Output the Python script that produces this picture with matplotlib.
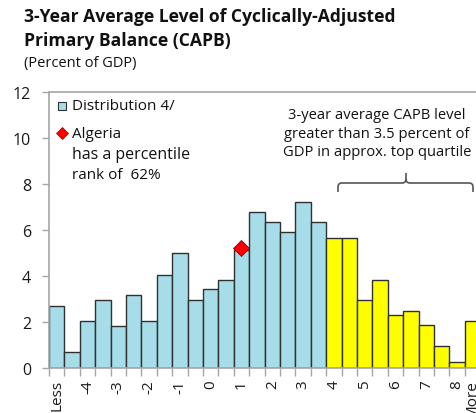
import matplotlib
matplotlib.use("Agg")
import matplotlib.pyplot as plt
from matplotlib.path import Path
from matplotlib.patches import PathPatch

plt.rcParams['font.family'] = ['Open Sans', 'DejaVu Sans']

# Histogram bins (upper bounds, percent of GDP) and share of countries in each
bin_labels = ["Less", "-4.5", "-4", "-3.5", "-3", "-2.5", "-2", "-1.5", "-1", "-0.5",
              "0", "0.5", "1", "1.5", "2", "2.5", "3", "3.5", "4", "4.5",
              "5", "5.5", "6", "6.5", "7", "7.5", "8", "More"]
bin_values = [-5.0, -4.5, -4.0, -3.5, -3.0, -2.5, -2.0, -1.5, -1.0, -0.5,
              0.0, 0.5, 1.0, 1.5, 2.0, 2.5, 3.0, 3.5, 4.0, 4.5,
              5.0, 5.5, 6.0, 6.5, 7.0, 7.5, 8.0, 8.5]
shares = [2.7, 0.7, 2.05, 2.95, 1.82, 3.17, 2.05, 4.05, 5.0, 2.95,
          3.42, 3.83, 5.15, 6.77, 6.36, 5.9, 7.23, 6.36, 5.64, 5.64,
          2.94, 3.84, 2.3, 2.49, 1.85, 0.95, 0.27, 2.06]
threshold = 3.5

# Algeria's position in the distribution
algeria_bin = "1"
algeria_value = 5.2

blue = "#A6DDE8"
yellow = "#FFFF00"
axis_gray = "#A6A6A6"

W, H = 477, 414
fig = plt.figure(figsize=(W / 100, H / 100), dpi=100)

def px(x, y):
    return x / W, 1 - y / H

left, top = 49, 93
bar_px = 15.4
right = left + bar_px * len(shares)
bottom = 369
ax = fig.add_axes([left / W, 1 - bottom / H, (right - left) / W, (bottom - top) / H])

xs = list(range(len(shares)))
colors = [yellow if v > threshold else blue for v in bin_values]
ax.bar(xs, shares, width=1.0, color=colors, edgecolor="#303030", linewidth=1.0, zorder=2)

ai = bin_labels.index(algeria_bin)
ax.plot([ai], [algeria_value], marker="D", markersize=8, color="#FF0000",
        markeredgecolor="#8B0000", markeredgewidth=0.6, linestyle="none", zorder=4)

ax.set_xlim(-0.5, len(shares) - 0.5)
ax.set_ylim(0, 12)
ax.set_yticks(range(0, 13, 2))

# tick marks at bin boundaries, labels at whole-number bins
ax.set_xticks([i - 0.5 for i in range(len(shares) + 1)])
ax.set_xticklabels([])
label_pos = [i for i, l in enumerate(bin_labels) if l in ("Less", "More") or "." not in l]
ax.set_xticks(label_pos, minor=True)
ax.set_xticklabels([bin_labels[i] for i in label_pos], minor=True, rotation=90,
                   fontsize=11, color="#1A1A1A")
ax.tick_params(axis="x", which="major", length=6, color=axis_gray, width=1)
ax.tick_params(axis="x", which="minor", length=0, pad=8)
ax.tick_params(axis="y", length=5, color=axis_gray, width=1, labelsize=11.5,
               labelcolor="#1A1A1A", pad=8)

for s in ("left", "bottom", "top"):
    ax.spines[s].set_color(axis_gray)
    ax.spines[s].set_linewidth(1.2)
ax.spines["right"].set_visible(False)

# titles
fig.text(*px(24, 22), "3-Year Average Level of Cyclically-Adjusted", fontsize=12.6,
         fontweight="bold", color="#111111", va="baseline")
fig.text(*px(24, 46), "Primary Balance (CAPB)", fontsize=12.6,
         fontweight="bold", color="#111111", va="baseline")
fig.text(*px(24, 67), "(Percent of GDP)", fontsize=10.5, color="#111111", va="baseline")

# legend
fig.patches.append(plt.Rectangle(px(58, 111), 8 / W, 8 / H, transform=fig.transFigure,
                                 facecolor=blue, edgecolor="#303030", linewidth=0.8))
fig.text(*px(72, 107), "Distribution 4/", fontsize=11, va="center", color="#111111")
fig.lines.append(plt.Line2D([62 / W], [1 - 134 / H], transform=fig.transFigure, marker="D",
                            markersize=6, color="#FF0000", markeredgecolor="#8B0000",
                            markeredgewidth=0.5, linestyle="none"))
fig.text(*px(72, 134), "Algeria", fontsize=11, va="center", color="#111111")
fig.text(*px(72, 155), "has a percentile", fontsize=11.5, va="center", color="#111111")
fig.text(*px(72, 176), "rank of  62%", fontsize=11, va="center", color="#111111")

# note and bracket over the top group
fig.text(*px(377, 134), "3-year average CAPB level\ngreater than 3.5 percent of\nGDP in approx. top quartile",
         fontsize=10.6, ha="center", va="center", linespacing=1.3, color="#111111")

bx0, bx1, bxm = 338, 473, 406
by, byend, bytip = 184, 193, 174
r = 4
verts = [px(bx0, byend), px(bx0, by + r), px(bx0, by), px(bx0 + r, by),
         px(bxm - r, by), px(bxm, by), px(bxm, by - r), px(bxm, bytip),
         px(bxm, by - r), px(bxm, by), px(bxm + r, by),
         px(bx1 - r, by), px(bx1, by), px(bx1, by + r), px(bx1, byend)]
codes = [Path.MOVETO, Path.LINETO, Path.CURVE3, Path.CURVE3,
         Path.LINETO, Path.CURVE3, Path.CURVE3, Path.LINETO,
         Path.MOVETO, Path.CURVE3, Path.CURVE3,
         Path.LINETO, Path.CURVE3, Path.CURVE3, Path.LINETO]
fig.patches.append(PathPatch(Path(verts, codes), transform=fig.transFigure,
                             facecolor="none", edgecolor="#555555", linewidth=1.2))

fig.savefig("out.png", dpi=100)
